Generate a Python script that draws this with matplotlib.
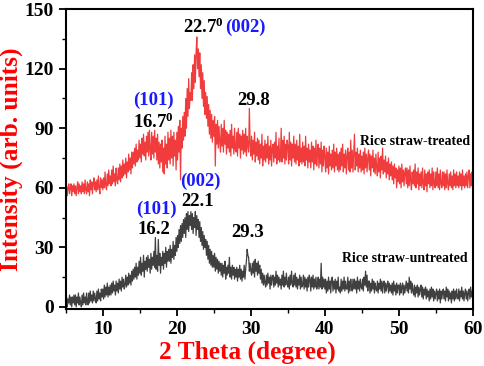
import numpy as np
import matplotlib
matplotlib.use("Agg")
import matplotlib.pyplot as plt
from matplotlib.ticker import MultipleLocator

plt.rcParams["font.family"] = "Liberation Serif"
plt.rcParams["font.weight"] = "bold"
plt.rcParams["mathtext.fontset"] = "custom"
plt.rcParams["mathtext.rm"] = "Liberation Serif:bold"
plt.rcParams["mathtext.it"] = "Liberation Serif:bold"
plt.rcParams["mathtext.bf"] = "Liberation Serif:bold"

# ── Data: 2-theta from 5 to 60 deg, step 0.1 (one row per degree) ────────────
two_theta = np.round(np.arange(5.0, 60.0001, 0.1), 1)

treated = [
    57, 61, 56, 60, 62, 57, 60, 62, 56, 61,
    58, 62, 57, 61, 56, 60, 63, 57, 62, 58,
    61, 57, 63, 58, 62, 57, 64, 59, 57, 63,
    58, 62, 56, 64, 59, 63, 57, 62, 65, 59,
    63, 58, 64, 59, 66, 60, 57, 65, 60, 64,
    59, 65, 60, 68, 61, 59, 67, 61, 69, 62,
    66, 61, 69, 62, 71, 63, 67, 61, 70, 64,
    62, 70, 64, 72, 63, 71, 65, 74, 66, 72,
    67, 75, 65, 73, 68, 77, 69, 75, 67, 78,
    70, 78, 72, 80, 71, 82, 73, 79, 74, 84,
    75, 82, 73, 85, 77, 87, 76, 83, 74, 86,
    78, 88, 76, 89, 79, 74, 88, 77, 86, 75,
    89, 78, 85, 74, 87, 72, 83, 70, 82, 73,
    84, 68, 80, 67, 86, 72, 82, 70, 88, 74,
    85, 72, 89, 75, 86, 71, 88, 76, 84, 69,
    88, 74, 91, 78, 94, 64, 90, 80, 96, 84,
    98, 86, 105, 90, 110, 96, 115, 100, 108, 104,
    118, 104, 122, 110, 127, 113, 128, 136, 120, 130,
    116, 128, 110, 122, 105, 118, 101, 114, 97, 108,
    95, 106, 91, 102, 87, 99, 85, 97, 83, 94,
    86, 96, 71, 92, 82, 94, 80, 91, 83, 78,
    92, 81, 90, 78, 94, 82, 89, 77, 88, 80,
    87, 78, 89, 76, 92, 80, 86, 77, 90, 79,
    78, 88, 76, 90, 80, 87, 75, 86, 79, 89,
    77, 87, 78, 90, 76, 86, 81, 78, 100, 82,
    76, 86, 74, 84, 77, 88, 73, 83, 76, 85,
    74, 84, 72, 82, 75, 87, 71, 81, 74, 84,
    73, 82, 75, 86, 72, 81, 74, 84, 71, 80,
    82, 73, 83, 75, 88, 72, 81, 74, 85, 73,
    76, 90, 73, 84, 75, 86, 72, 82, 74, 84,
    81, 72, 88, 74, 83, 71, 82, 75, 86, 73,
    82, 72, 84, 74, 81, 71, 87, 73, 80, 72,
    83, 73, 81, 71, 86, 74, 80, 70, 82, 73,
    79, 70, 83, 73, 81, 69, 80, 72, 84, 71,
    78, 82, 70, 80, 72, 83, 68, 79, 71, 81,
    76, 68, 80, 70, 78, 67, 81, 71, 77, 69,
    79, 70, 82, 68, 78, 71, 80, 69, 77, 68,
    78, 69, 80, 71, 82, 68, 77, 70, 79, 67,
    76, 80, 69, 78, 68, 84, 70, 79, 68, 77,
    87, 69, 78, 71, 80, 68, 77, 70, 79, 68,
    76, 69, 78, 67, 80, 70, 77, 68, 75, 79,
    69, 77, 66, 76, 70, 79, 68, 75, 67, 77,
    70, 66, 78, 68, 75, 65, 76, 69, 80, 67,
    74, 68, 76, 65, 73, 67, 75, 64, 72, 66,
    73, 64, 71, 62, 72, 65, 70, 60, 69, 63,
    71, 62, 70, 60, 72, 63, 69, 61, 68, 70,
    62, 70, 60, 69, 61, 71, 63, 59, 68, 62,
    69, 61, 72, 60, 68, 62, 70, 59, 67, 61,
    68, 60, 70, 62, 59, 69, 61, 67, 58, 68,
    62, 69, 60, 67, 61, 70, 59, 68, 62, 60,
    68, 61, 70, 60, 67, 59, 69, 62, 60, 68,
    61, 68, 59, 67, 60, 69, 62, 59, 67, 61,
    68, 60, 66, 59, 69, 61, 67, 60, 68, 61,
    66, 60, 68, 61, 67, 59, 69, 61, 66, 60,
    67, 61, 68, 60, 66, 69, 60, 67, 61, 68,
    64,
]

untreated = [
    1, 5, 0, 4, 2, 6, 1, 5, 0, 5,
    2, 6, 1, 6, 0, 5, 2, 7, 1, 5,
    2, 0, 6, 1, 7, 2, 5, 1, 7, 3,
    1, 7, 2, 8, 3, 6, 2, 8, 3, 7,
    4, 2, 8, 3, 9, 4, 7, 3, 9, 5,
    9, 4, 11, 5, 10, 6, 12, 5, 10, 6,
    11, 6, 12, 7, 13, 8, 11, 6, 13, 8,
    12, 7, 14, 9, 13, 8, 15, 10, 14, 9,
    11, 16, 10, 15, 11, 17, 12, 16, 11, 18,
    13, 19, 14, 20, 15, 22, 14, 20, 16, 23,
    17, 25, 16, 22, 18, 26, 15, 23, 19, 25,
    18, 26, 20, 24, 17, 27, 19, 25, 21, 28,
    20, 35, 19, 26, 18, 34, 21, 27, 17, 25,
    21, 28, 19, 27, 22, 30, 20, 28, 23, 29,
    23, 31, 22, 29, 25, 33, 24, 31, 26, 35,
    28, 36, 30, 39, 32, 41, 33, 42, 35, 44,
    37, 45, 35, 47, 39, 48, 38, 46, 41, 48,
    39, 47, 37, 45, 40, 48, 36, 46, 39, 44,
    35, 43, 33, 40, 31, 38, 29, 36, 30, 34,
    26, 33, 24, 31, 22, 29, 21, 28, 20, 26,
    20, 27, 18, 25, 19, 24, 17, 23, 18, 22,
    16, 22, 15, 21, 17, 23, 14, 20, 16, 21,
    17, 25, 15, 20, 14, 21, 16, 20, 14, 19,
    15, 20, 13, 19, 15, 21, 14, 19, 13, 18,
    15, 21, 14, 19, 23, 29, 26, 25, 18, 22,
    18, 16, 22, 17, 23, 15, 24, 18, 22, 16,
    23, 17, 21, 14, 19, 12, 17, 11, 16, 12,
    10, 16, 11, 17, 12, 15, 9, 16, 11, 15,
    16, 10, 15, 11, 18, 12, 16, 10, 15, 11,
    14, 9, 16, 11, 18, 10, 15, 11, 17, 12,
    10, 15, 9, 16, 11, 18, 12, 10, 16, 11,
    17, 10, 15, 9, 14, 11, 16, 9, 15, 10,
    11, 16, 9, 15, 10, 14, 8, 15, 10, 16,
    14, 8, 15, 10, 16, 9, 14, 10, 15, 9,
    11, 15, 9, 14, 10, 22, 9, 15, 10, 14,
    9, 14, 7, 13, 8, 15, 9, 13, 7, 14,
    15, 8, 13, 9, 14, 7, 13, 9, 15, 8,
    10, 7, 14, 8, 13, 9, 15, 8, 13, 9,
    9, 15, 7, 13, 8, 14, 10, 8, 14, 9,
    14, 9, 13, 7, 15, 9, 13, 8, 14, 10,
    9, 14, 8, 15, 11, 18, 10, 16, 8, 13,
    13, 7, 12, 8, 14, 9, 13, 7, 12, 9,
    8, 13, 7, 12, 9, 14, 8, 13, 7, 12,
    13, 7, 12, 8, 11, 13, 7, 12, 8, 11,
    7, 12, 6, 13, 8, 11, 6, 12, 7, 11,
    11, 6, 12, 7, 10, 12, 6, 11, 7, 10,
    13, 8, 12, 7, 15, 9, 13, 7, 12, 8,
    6, 11, 5, 10, 7, 11, 5, 10, 6, 9,
    11, 5, 10, 4, 9, 6, 10, 4, 9, 5,
    8, 3, 9, 4, 10, 5, 9, 3, 8, 4,
    7, 9, 3, 8, 4, 9, 2, 8, 4, 7,
    9, 4, 8, 3, 10, 5, 9, 3, 8, 4,
    7, 2, 8, 4, 9, 3, 8, 4, 9, 5,
    4, 9, 3, 8, 5, 10, 4, 8, 3, 7,
    9, 4, 8, 3, 7, 9, 4, 10, 5, 8,
    7,
]

RED = "#f03c3c"
GRAY = "#404040"
BLUE = "#1a1aff"
BOLD = dict(fontweight="bold", family="Liberation Serif")
ANN = 13.5   # peak label size
NAME = 10    # sample label size

fig = plt.figure(figsize=(4.84, 3.66), dpi=100)
ax = fig.add_axes([0.136, 0.156, 0.841, 0.819])

ax.plot(two_theta, treated, color=RED, lw=0.9)
ax.plot(two_theta, untreated, color=GRAY, lw=0.9)

# ── Peak annotations ─────────────────────────────────────────────────────────
ax.text(23.65, 141, "22.7$^0$", fontsize=ANN, ha="center", va="center", **BOLD)
ax.text(29.2, 141, "(002)", fontsize=ANN, ha="center", va="center", color=BLUE, **BOLD)
ax.text(16.8, 104, "(101)", fontsize=ANN, ha="center", va="center", color=BLUE, **BOLD)
ax.text(16.8, 93, "16.7$^0$", fontsize=ANN, ha="center", va="center", **BOLD)
ax.text(30.4, 104, "29.8", fontsize=ANN, ha="center", va="center", **BOLD)
ax.text(59.6, 83.5, "Rice straw-treated", fontsize=NAME, ha="right", va="center", **BOLD)

ax.text(23.2, 63.4, "(002)", fontsize=ANN, ha="center", va="center", color=BLUE, **BOLD)
ax.text(22.8, 53, "22.1", fontsize=ANN, ha="center", va="center", **BOLD)
ax.text(17.2, 49, "(101)", fontsize=ANN, ha="center", va="center", color=BLUE, **BOLD)
ax.text(16.9, 38.8, "16.2", fontsize=ANN, ha="center", va="center", **BOLD)
ax.text(29.6, 37.7, "29.3", fontsize=ANN, ha="center", va="center", **BOLD)
ax.text(59.3, 24.5, "Rice straw-untreated", fontsize=NAME, ha="right", va="center", **BOLD)

# ── Axes styling ─────────────────────────────────────────────────────────────
ax.set_xlim(5, 60)
ax.set_ylim(-1, 150)
ax.xaxis.set_major_locator(MultipleLocator(10))
ax.xaxis.set_minor_locator(MultipleLocator(5))
ax.yaxis.set_major_locator(MultipleLocator(30))
ax.yaxis.set_minor_locator(MultipleLocator(15))
ax.tick_params(which="major", direction="out", length=5, width=1.3, labelsize=14)
ax.tick_params(which="minor", direction="out", length=3, width=1.0)
for lbl in ax.get_xticklabels() + ax.get_yticklabels():
    lbl.set_fontweight("bold")
for s in ax.spines.values():
    s.set_linewidth(1.5)

ax.set_xlabel("2 Theta (degree)", fontsize=18.3, color="red", **BOLD)
ax.xaxis.set_label_coords(0.447, -0.105)
ax.set_ylabel("Intensity (arb. units)", fontsize=18.3, color="red", labelpad=1, **BOLD)

fig.savefig("out.png", dpi=100)
